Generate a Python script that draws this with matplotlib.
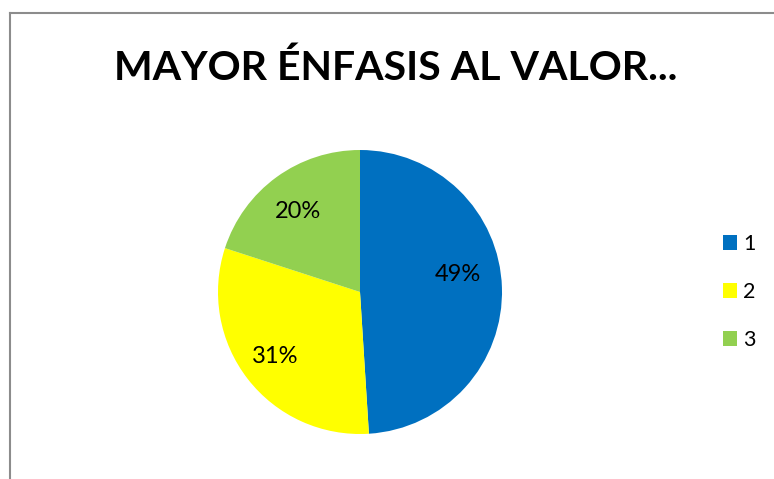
import matplotlib
matplotlib.use('Agg')
import matplotlib.pyplot as plt
from matplotlib.lines import Line2D

titulo = 'MAYOR ÉNFASIS AL VALOR...'
categorias = ['1', '2', '3']
valores = [49, 31, 20]
colores = ['#0070C0', '#FFFF00', '#92D050']

W, H = 774, 479
fig = plt.figure(figsize=(W / 100, H / 100), dpi=100)
fig.patch.set_facecolor('white')

# marco gris (solo arriba e izquierda visibles)
fig.add_artist(Line2D([10 / W, 10 / W], [0, 1 - 13 / H], color='#8c8c8c', lw=1.5))
fig.add_artist(Line2D([10 / W, 1], [1 - 13 / H, 1 - 13 / H], color='#8c8c8c', lw=1.5))

fig.text(396 / W, 1 - 80 / H, titulo, ha='center', va='baseline',
         fontsize=29.5, fontweight='bold', family='Lato')

cx, cy, r = 360, 292, 142
ax = fig.add_axes([(cx - r) / W, (H - cy - r) / H, 2 * r / W, 2 * r / H])
wedges, textos, pcts = ax.pie(valores, colors=colores, startangle=90, counterclock=False,
                              autopct='%1.0f%%', pctdistance=0.69,
                              textprops={'fontsize': 17, 'family': 'Lato'})
ax.set_xlim(-1, 1)
ax.set_ylim(-1, 1)
# ajustes de posición de etiquetas como en el original
x, y = pcts[0].get_position()
pcts[0].set_position((x, y + 0.1))
x, y = pcts[1].get_position()
pcts[1].set_position((x - 0.05, y - 0.03))
x, y = pcts[2].get_position()
pcts[2].set_position((x - 0.03, y + 0.01))

fig.legend(wedges, categorias, loc='center left', bbox_to_anchor=(723 / W, 1 - 292 / H),
           frameon=False, prop={'family': 'Lato', 'size': 15.5},
           handlelength=0.65, handleheight=0.65, handletextpad=0.3,
           labelspacing=1.3, borderpad=0, borderaxespad=0)

fig.savefig('out.png', dpi=100)
